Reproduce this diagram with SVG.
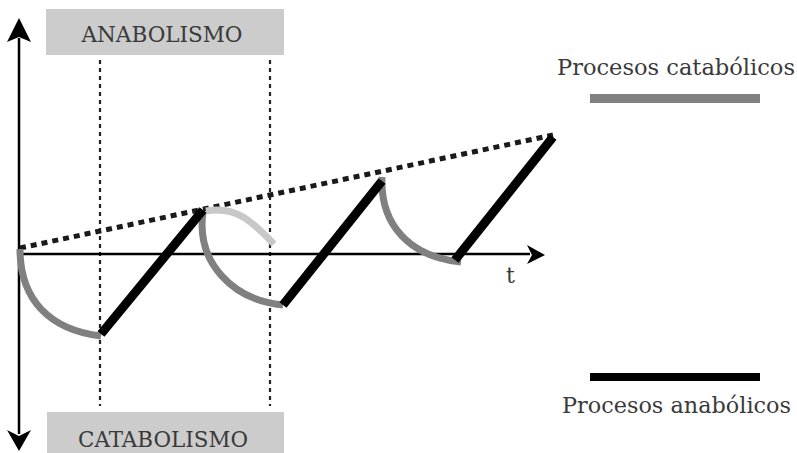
<svg xmlns="http://www.w3.org/2000/svg" width="797" height="453" viewBox="0 0 797 453">
<style>
.lbl{font-family:"DejaVu Serif","Liberation Serif",serif;fill:#3a3a3a;font-size:22px}
.box{fill:#cccccc}
.axis{stroke:#000;stroke-width:2.5;fill:none}
.guide{stroke:#222;stroke-width:2.2;stroke-dasharray:4 4;fill:none}
.trend{stroke:#1a1a1a;stroke-width:5;stroke-dasharray:6 5;fill:none}
.cat{stroke:#808080;stroke-width:7;fill:none}
.catl{stroke:#c8c8c8;stroke-width:7;fill:none}
.ana{stroke:#000;stroke-width:9;fill:none}
</style>
<rect width="797" height="453" fill="#fff"/>
<g id="anabolismo">
<rect class="box" x="46" y="9" width="238" height="46"/>
<text class="lbl" x="162" y="42" text-anchor="middle" textLength="161" lengthAdjust="spacingAndGlyphs">ANABOLISMO</text>
</g>
<g id="catabolismo">
<rect class="box" x="47" y="412" width="237" height="41"/>
<text class="lbl" x="163" y="447" text-anchor="middle" textLength="170" lengthAdjust="spacingAndGlyphs">CATABOLISMO</text>
</g>
<g id="legend-catabolicos">
<text class="lbl" x="557" y="75" font-size="22" textLength="238" lengthAdjust="spacingAndGlyphs">Procesos catabólicos</text>
<rect x="590" y="94" width="170" height="9" fill="#808080"/>
</g>
<g id="legend-anabolicos">
<rect x="590" y="373" width="170" height="8" fill="#000"/>
<text class="lbl" x="562" y="413" font-size="22" textLength="229" lengthAdjust="spacingAndGlyphs">Procesos anabólicos</text>
</g>
<g id="connectors">
<line class="guide" x1="100" y1="60" x2="100" y2="406"/>
<line class="guide" x1="270" y1="60" x2="270" y2="406"/>
<line class="axis" x1="19" y1="38" x2="19" y2="434"/>
<path d="M19,18 L31,42 L19,37 L7,42 Z" fill="#000"/>
<path d="M19,451 L31,430 L19,436 L7,430 Z" fill="#000"/>
<line class="axis" x1="19" y1="254" x2="530" y2="254"/>
<path d="M545,255 L527,245 L532,255 L527,264 Z" fill="#000"/>
<text class="lbl" x="506" y="283" font-size="22">t</text>
<line class="trend" x1="20" y1="248" x2="553" y2="135"/>
<path class="cat" d="M20,249 C20,300 50,330 101,336"/>
<path class="catl" d="M206,211 C238,205 255,225 274,244"/>
<path class="cat" d="M203,212 C196,262 232,300 283,305"/>
<path class="cat" d="M382,177 C380,225 410,257 461,262"/>
<line class="ana" x1="101" y1="334" x2="203" y2="210"/>
<line class="ana" x1="283" y1="305" x2="382" y2="181"/>
<line class="ana" x1="455" y1="260" x2="553" y2="137"/>
</g>
</svg>
